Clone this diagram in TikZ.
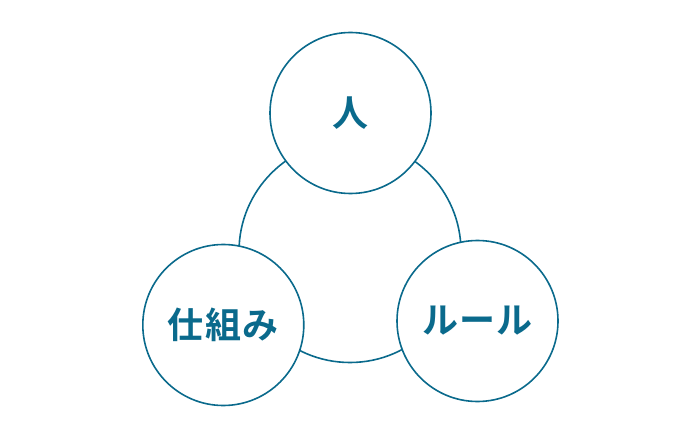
\documentclass[tikz,border=0pt]{standalone}
\usepackage{fontspec}
\newfontfamily\jpfont{Noto Sans CJK JP Bold}
\usepackage{tikz}
\usetikzlibrary{positioning}
\definecolor{teal}{RGB}{10,106,140}

\begin{document}
\begin{tikzpicture}[
        x=1pt, y=-1pt,
        % circles of the diagram
        ring/.style={draw=teal, line width=1.6pt, circle, minimum size=222pt, inner sep=0pt},
        part/.style={draw=teal, fill=white, line width=1.6pt, circle, minimum size=161pt, inner sep=0pt,
            font=\jpfont\fontsize{36}{36}\selectfont, text=teal}
    ]
    \useasboundingbox (0,0) rectangle (700,438);
    \node[ring] (center) at (350,251.5) {};
    \node[part] (people) at (350.5,113) {\raisebox{-3pt}{人}};
    \node[part] (system) at (223.3,325) {仕\kern1.5pt 組\kern1.5pt み};
    \node[part] (rules) at (477.5,321) {ル\kern1.5pt ー\kern1.5pt ル};
\end{tikzpicture}
\end{document}
